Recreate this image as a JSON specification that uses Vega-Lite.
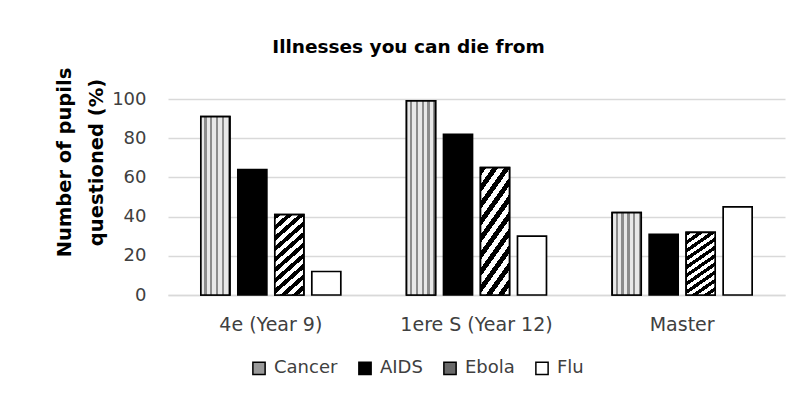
{
  "$schema": "https://vega.github.io/schema/vega-lite/v6.json",
  "autosize": {"type": "none"},
  "padding": {"left": 168, "top": 99, "right": 18, "bottom": 106},
  "width": 617,
  "height": 196,
  "background": "white",
  "title": {
    "text": "Illnesses you can die from",
    "font": "DejaVu Sans",
    "fontSize": 18.5,
    "fontWeight": "bold",
    "color": "#000000",
    "anchor": "middle",
    "offset": 11,
    "dx": -68
  },
  "data": {
    "values": [
      {"level": "4e (Year 9)", "illness": "Cancer", "pct": 91},
      {"level": "4e (Year 9)", "illness": "AIDS", "pct": 64},
      {"level": "4e (Year 9)", "illness": "Ebola", "pct": 41},
      {"level": "4e (Year 9)", "illness": "Flu", "pct": 12},
      {"level": "1ere S (Year 12)", "illness": "Cancer", "pct": 99},
      {"level": "1ere S (Year 12)", "illness": "AIDS", "pct": 82},
      {"level": "1ere S (Year 12)", "illness": "Ebola", "pct": 65},
      {"level": "1ere S (Year 12)", "illness": "Flu", "pct": 30},
      {"level": "Master", "illness": "Cancer", "pct": 42},
      {"level": "Master", "illness": "AIDS", "pct": 31},
      {"level": "Master", "illness": "Ebola", "pct": 32},
      {"level": "Master", "illness": "Flu", "pct": 45}
    ]
  },
  "encoding": {
    "x": {
      "field": "level",
      "type": "nominal",
      "sort": ["4e (Year 9)", "1ere S (Year 12)", "Master"],
      "scale": {"paddingInner": 0, "paddingOuter": 0},
      "axis": {
        "title": null,
        "labelAngle": 0,
        "labelFont": "DejaVu Sans",
        "labelFontSize": 19,
        "labelColor": "#404040",
        "labelPadding": 20,
        "ticks": false,
        "tickSize": 0,
        "domain": true,
        "domainColor": "#d9d9d9",
        "domainWidth": 1.5,
        "grid": false
      }
    },
    "xOffset": {
      "field": "illness",
      "type": "nominal",
      "scale": {"domain": ["Cancer", "AIDS", "Ebola", "Flu"], "paddingInner": 0.216, "paddingOuter": 0.888}
    },
    "y": {
      "field": "pct",
      "type": "quantitative",
      "scale": {"domain": [0, 100], "nice": false},
      "axis": {
        "values": [0, 20, 40, 60, 80, 100],
        "title": ["Number of pupils", "questioned (%)"],
        "titleFont": "DejaVu Sans",
        "titleFontSize": 19.5,
        "titleFontWeight": "bold",
        "titleColor": "#000000",
        "titleLineHeight": 32,
        "titlePadding": 5,
        "titleY": 63,
        "labelFont": "DejaVu Sans",
        "labelFontSize": 18,
        "labelColor": "#404040",
        "labelPadding": 22,
        "ticks": false,
        "tickSize": 0,
        "domain": false,
        "grid": true,
        "gridColor": "#d9d9d9",
        "gridWidth": 1.5
      }
    }
  },
  "layer": [
    {
      "mark": {"type": "bar", "stroke": "#000000", "strokeWidth": 1.7, "fillOpacity": 1},
      "encoding": {
        "fill": {
          "field": "illness",
          "type": "nominal",
          "scale": {
            "domain": ["Cancer", "AIDS", "Ebola", "Flu"],
            "range": ["#9a9a9a", "#000000", "#6a6a6a", "#ffffff"]
          },
          "legend": {
            "title": null,
            "orient": "none",
            "direction": "horizontal",
            "legendX": 82,
            "legendY": 260,
            "symbolType": "square",
            "symbolSize": 150,
            "symbolStrokeColor": "#000000",
            "symbolStrokeWidth": 1.5,
            "symbolOpacity": 1,
            "labelFont": "DejaVu Sans",
            "labelFontSize": 18,
            "labelColor": "#404040",
            "labelOffset": 6,
            "columnPadding": 17,
            "padding": 0
          }
        }
      }
    },
    {
      "transform": [{"filter": "datum.illness === 'Cancer'"}],
      "mark": {
        "type": "bar", "stroke": "#000000", "strokeWidth": 1.7,
        "fill": {"gradient": "linear", "x1": 0, "y1": 0, "x2": 1, "y2": 0, "stops": [
          {"offset": 0, "color": "#e8e8e8"}, {"offset": 0.12, "color": "#e8e8e8"}, {"offset": 0.12, "color": "#8c8c8c"}, {"offset": 0.2, "color": "#8c8c8c"},
          {"offset": 0.2, "color": "#e8e8e8"}, {"offset": 0.32, "color": "#e8e8e8"}, {"offset": 0.32, "color": "#8c8c8c"}, {"offset": 0.4, "color": "#8c8c8c"},
          {"offset": 0.4, "color": "#e8e8e8"}, {"offset": 0.52, "color": "#e8e8e8"}, {"offset": 0.52, "color": "#8c8c8c"}, {"offset": 0.6, "color": "#8c8c8c"},
          {"offset": 0.6, "color": "#e8e8e8"}, {"offset": 0.72, "color": "#e8e8e8"}, {"offset": 0.72, "color": "#8c8c8c"}, {"offset": 0.8, "color": "#8c8c8c"},
          {"offset": 0.8, "color": "#e8e8e8"}, {"offset": 0.92, "color": "#e8e8e8"}, {"offset": 0.92, "color": "#8c8c8c"}, {"offset": 1, "color": "#8c8c8c"}
        ]}
      },
      "encoding": {}
    },
    {
      "transform": [{"filter": "datum.illness === 'Ebola'"}],
      "mark": {
        "type": "bar", "stroke": "#000000", "strokeWidth": 1.7,
        "fill": {"gradient": "linear", "x1": 0, "y1": 0, "x2": 0.383, "y2": 1.197, "stops": [
          {"offset": 0, "color": "#000000"}, {"offset": 0.05, "color": "#000000"}, {"offset": 0.05, "color": "#ffffff"}, {"offset": 0.1, "color": "#ffffff"},
          {"offset": 0.1, "color": "#000000"}, {"offset": 0.15, "color": "#000000"}, {"offset": 0.15, "color": "#ffffff"}, {"offset": 0.2, "color": "#ffffff"},
          {"offset": 0.2, "color": "#000000"}, {"offset": 0.25, "color": "#000000"}, {"offset": 0.25, "color": "#ffffff"}, {"offset": 0.3, "color": "#ffffff"},
          {"offset": 0.3, "color": "#000000"}, {"offset": 0.35, "color": "#000000"}, {"offset": 0.35, "color": "#ffffff"}, {"offset": 0.4, "color": "#ffffff"},
          {"offset": 0.4, "color": "#000000"}, {"offset": 0.45, "color": "#000000"}, {"offset": 0.45, "color": "#ffffff"}, {"offset": 0.5, "color": "#ffffff"},
          {"offset": 0.5, "color": "#000000"}, {"offset": 0.55, "color": "#000000"}, {"offset": 0.55, "color": "#ffffff"}, {"offset": 0.6, "color": "#ffffff"},
          {"offset": 0.6, "color": "#000000"}, {"offset": 0.65, "color": "#000000"}, {"offset": 0.65, "color": "#ffffff"}, {"offset": 0.7, "color": "#ffffff"},
          {"offset": 0.7, "color": "#000000"}, {"offset": 0.75, "color": "#000000"}, {"offset": 0.75, "color": "#ffffff"}, {"offset": 0.8, "color": "#ffffff"},
          {"offset": 0.8, "color": "#000000"}, {"offset": 0.85, "color": "#000000"}, {"offset": 0.85, "color": "#ffffff"}, {"offset": 0.9, "color": "#ffffff"},
          {"offset": 0.9, "color": "#000000"}, {"offset": 0.95, "color": "#000000"}, {"offset": 0.95, "color": "#ffffff"}, {"offset": 1, "color": "#ffffff"}
        ]}
      },
      "encoding": {}
    }
  ],
  "config": {
    "view": {"stroke": null}
  }
}
